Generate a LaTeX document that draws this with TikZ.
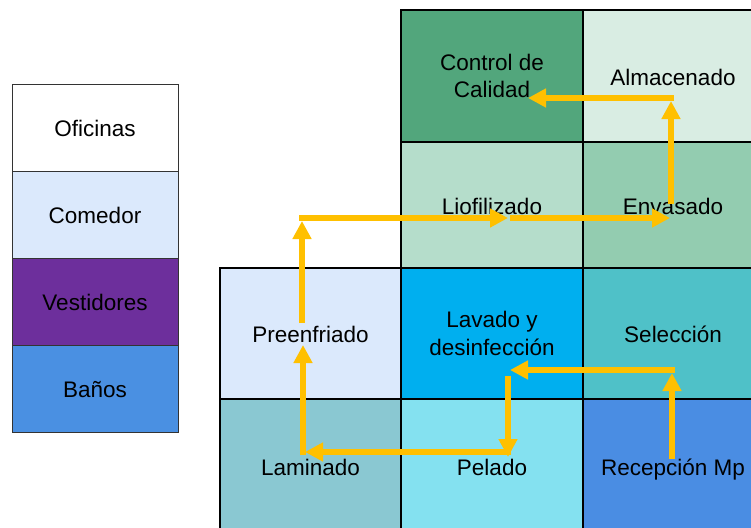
\documentclass[tikz,border=0pt]{standalone}
\usepackage{fontspec}
\setmainfont{Liberation Sans}
\usetikzlibrary{arrows.meta}
\definecolor{ccC}{HTML}{52A67C}
\definecolor{almC}{HTML}{D9EDE3}
\definecolor{lioC}{HTML}{B5DDCB}
\definecolor{envC}{HTML}{93CCB0}
\definecolor{preC}{HTML}{DBE9FC}
\definecolor{lavC}{HTML}{00AFEF}
\definecolor{selC}{HTML}{4FC1C8}
\definecolor{lamC}{HTML}{8AC8D2}
\definecolor{pelC}{HTML}{84E1F0}
\definecolor{recC}{HTML}{4A8DE3}
\definecolor{vesC}{HTML}{6D2F9C}
\definecolor{banC}{HTML}{4A90E2}
\definecolor{flowC}{HTML}{FFC000}
\tikzset{
  cellbase/.style={draw=black, line width=1.3pt, rectangle, inner sep=0pt, align=center,
    font=\fontsize{22.5}{27.5}\selectfont},
  cell/.style={cellbase, text height=22pt, text depth=4pt},
  cellmulti/.style={cellbase},
  legcell/.style={draw=black!80, line width=0.9pt, rectangle, inner sep=0pt, align=center,
    minimum width=166pt, minimum height=87pt, text height=22pt, text depth=4pt,
    font=\fontsize{22.5}{27.5}\selectfont},
  flow/.style={draw=flowC, line width=6pt, -{Triangle[length=18pt,width=18pt]}}
}
\begin{document}
\begin{tikzpicture}[x=1pt,y=-1pt]
\useasboundingbox (0,0) rectangle (751,527);
% grid cells
\node[cellmulti, fill=ccC, minimum width=182pt, minimum height=132pt] (cc) at (492,76) {Control de\\Calidad};
\node[cell, fill=almC, minimum width=180pt, minimum height=132pt] (alm) at (673,76) {Almacenado};
\node[cell, fill=lioC, minimum width=182pt, minimum height=126pt] (lio) at (492,205) {Liofilizado};
\node[cell, fill=envC, minimum width=180pt, minimum height=126pt] (env) at (673,205) {Envasado};
\node[cell, fill=preC, minimum width=181pt, minimum height=131pt] (pre) at (310.5,333.5) {Preenfriado};
\node[cellmulti, fill=lavC, minimum width=182pt, minimum height=131pt] (lav) at (492,333.5) {Lavado y\\desinfección};
\node[cell, fill=selC, minimum width=180pt, minimum height=131pt] (sel) at (673,333.5) {Selección};
\node[cell, fill=lamC, minimum width=181pt, minimum height=134pt] (lam) at (310.5,466) {Laminado};
\node[cell, fill=pelC, minimum width=182pt, minimum height=134pt] (pel) at (492,466) {Pelado};
\node[cell, fill=recC, minimum width=180pt, minimum height=134pt] (rec) at (673,466) {Recepción Mp};
% legend
\node[legcell, fill=white] (ofi) at (95,127.5) {Oficinas};
\node[legcell, fill=preC] (com) at (95,214.5) {Comedor};
\node[legcell, fill=vesC] (ves) at (95,301.5) {Vestidores};
\node[legcell, fill=banC] (ban) at (95,388.5) {Baños};
% flow coordinates
\coordinate (a1) at (672,459);
\coordinate (a2) at (672,373);
\coordinate (a2h) at (675,370);
\coordinate (a3) at (510,370);
\coordinate (b1) at (508,376);
\coordinate (b2) at (508,457);
\coordinate (b2h) at (511,452);
\coordinate (b3) at (305,452);
\coordinate (c1) at (303,455);
\coordinate (c2) at (303,345);
\coordinate (d1) at (302,323);
\coordinate (d2) at (302,221);
\coordinate (d2h) at (299,218);
\coordinate (d3) at (508,218);
\coordinate (d4) at (510,218);
\coordinate (d5) at (670,218);
\coordinate (e1) at (671,204);
\coordinate (e2) at (671,101);
\coordinate (e2h) at (674,98);
\coordinate (e3) at (528,98);
\draw[flow] (a1) -- (a2);
\draw[flow] (a2h) -- (a3);
\draw[flow] (b1) -- (b2);
\draw[flow] (b2h) -- (b3);
\draw[flow] (c1) -- (c2);
\draw[flow] (d1) -- (d2);
\draw[flow] (d2h) -- (d3);
\draw[flow] (d4) -- (d5);
\draw[flow] (e1) -- (e2);
\draw[flow] (e2h) -- (e3);
\end{tikzpicture}
\end{document}
